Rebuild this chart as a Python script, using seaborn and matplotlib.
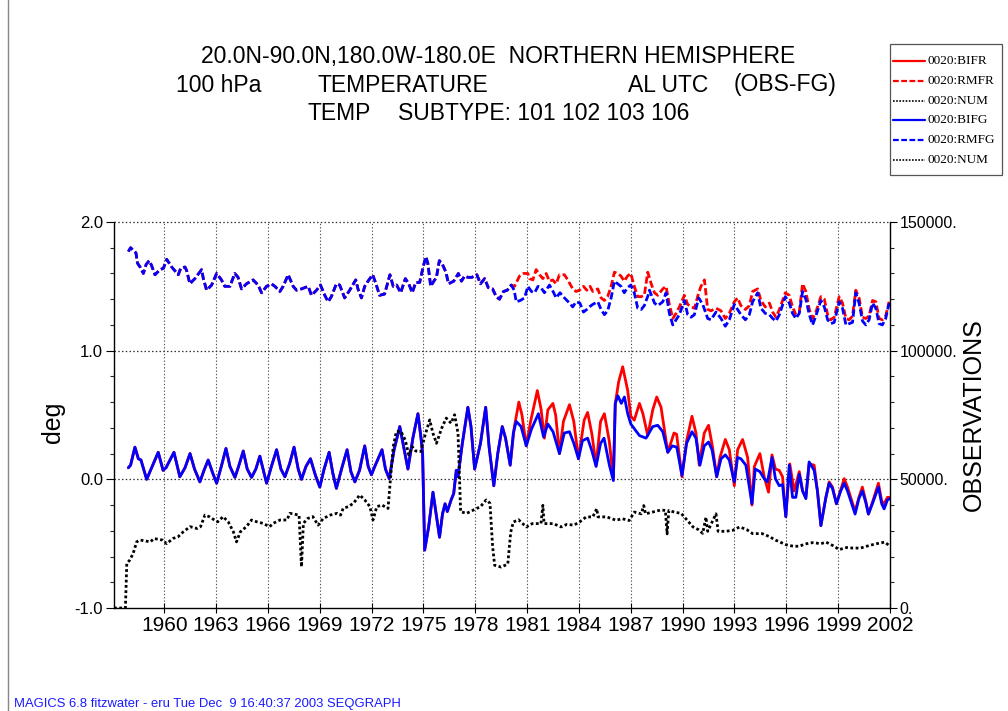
import numpy as np
import matplotlib
matplotlib.use("Agg")
import matplotlib.pyplot as plt
import seaborn as sns
from matplotlib.lines import Line2D
from matplotlib.patches import Rectangle
from matplotlib.ticker import FixedLocator, MultipleLocator, FixedFormatter

# ---------------- data ----------------
# BIFG : blue solid (deg)
BIFG_T = [1957.92, 1958.05, 1958.3, 1958.5, 1958.65, 1958.98, 1959.3, 1959.65, 1959.93, 1960.1,
          1960.56, 1960.9, 1961.2, 1961.49, 1961.75, 1962.06, 1962.3, 1962.54, 1962.8, 1963.03,
          1963.3, 1963.57, 1963.8, 1964.09, 1964.3, 1964.57, 1964.8, 1965.05, 1965.3, 1965.53,
          1965.75, 1965.92, 1966.2, 1966.5, 1966.75, 1966.98, 1967.25, 1967.51, 1967.75, 1967.94,
          1968.2, 1968.46, 1968.75, 1969.0, 1969.25, 1969.54, 1969.75, 1969.96, 1970.3, 1970.58,
          1970.8, 1971.03, 1971.3, 1971.6, 1971.8, 1971.99, 1972.15, 1972.6, 1972.8, 1973.02,
          1973.3, 1973.63, 1973.8, 1974.1, 1974.4, 1974.68, 1974.85, 1974.95, 1975.07, 1975.3,
          1975.55, 1975.7, 1975.93, 1976.1, 1976.25, 1976.38, 1976.6, 1976.75, 1976.9, 1977.0,
          1977.25, 1977.57, 1977.75, 1977.96, 1978.3, 1978.6, 1978.8, 1979.07, 1979.3, 1979.56,
          1979.75, 1980.02, 1980.2, 1980.37, 1980.65, 1980.95, 1981.25, 1981.65, 1981.95, 1982.2,
          1982.5, 1982.87, 1983.15, 1983.45, 1983.7, 1983.97, 1984.2, 1984.5, 1984.75, 1984.99,
          1985.25, 1985.45, 1985.76, 1985.99, 1986.1, 1986.25, 1986.45, 1986.63, 1986.82, 1987.0,
          1987.5, 1987.88, 1988.27, 1988.56, 1988.85, 1989.14, 1989.4, 1989.66, 1989.96, 1990.23,
          1990.54, 1990.77, 1991.0, 1991.25, 1991.5, 1991.7, 1991.97, 1992.22, 1992.47, 1992.7,
          1992.99, 1993.18, 1993.37, 1993.66, 1994.01, 1994.2, 1994.47, 1994.72, 1994.91, 1995.17,
          1995.37, 1995.59, 1995.78, 1995.97, 1996.17, 1996.36, 1996.55, 1996.75, 1996.94, 1997.13,
          1997.32, 1997.61, 1997.8, 1998.0, 1998.29, 1998.48, 1998.67, 1998.9, 1999.15, 1999.35,
          1999.54, 1999.98, 2000.2, 2000.4, 2000.6, 2000.75, 2000.98, 2001.33, 2001.52, 2001.66,
          2001.85, 2002.0]
BIFG_V = [0.09, 0.11, 0.25, 0.16, 0.15, 0.00, 0.10, 0.21, 0.07, 0.09,
          0.21, 0.02, 0.09, 0.20, 0.08, -0.02, 0.07, 0.15, 0.05, -0.03,
          0.10, 0.24, 0.10, 0.015, 0.10, 0.22, 0.08, 0.015, 0.08, 0.18,
          0.06, -0.03, 0.10, 0.23, 0.08, 0.02, 0.12, 0.25, 0.08, 0.00,
          0.10, 0.16, 0.03, -0.06, 0.08, 0.21, 0.05, -0.07, 0.10, 0.23,
          0.06, -0.02, 0.07, 0.26, 0.10, 0.035, 0.09, 0.23, 0.08, 0.005,
          0.23, 0.41, 0.29, 0.08, 0.33, 0.51, 0.33, 0.20, -0.55, -0.37,
          -0.10, -0.24, -0.45, -0.27, -0.19, -0.25, -0.16, -0.11, 0.07, 0.02,
          0.28, 0.56, 0.41, 0.08, 0.28, 0.56, 0.25, -0.05, 0.20, 0.41,
          0.32, 0.11, 0.36, 0.45, 0.41, 0.26, 0.39, 0.51, 0.33, 0.43,
          0.37, 0.20, 0.36, 0.37, 0.28, 0.16, 0.30, 0.32, 0.22, 0.10,
          0.28, 0.32, 0.11, -0.01, 0.59, 0.65, 0.59, 0.64, 0.51, 0.43,
          0.34, 0.32, 0.41, 0.42, 0.37, 0.21, 0.26, 0.25, 0.03, 0.28,
          0.37, 0.32, 0.11, 0.26, 0.29, 0.23, 0.02, 0.16, 0.19, 0.15,
          -0.02, 0.17, 0.16, 0.11, -0.19, 0.08, 0.06, 0.005, -0.02, 0.17,
          0.005, -0.05, -0.04, -0.29, 0.11, -0.14, -0.14, 0.04, -0.09, -0.15,
          0.135, 0.07, -0.09, -0.36, -0.14, -0.03, -0.07, -0.19, -0.09, -0.03,
          -0.09, -0.27, -0.15, -0.09, -0.18, -0.27, -0.19, -0.06, -0.19, -0.23,
          -0.16, -0.15]

# BIFR : red solid (deg), where it departs from BIFG (identical before 1980)
BIFR_T = [1980.02, 1980.25, 1980.52, 1980.7, 1980.95, 1981.2, 1981.59, 1981.8, 1982.0, 1982.2,
          1982.49, 1982.65, 1982.87, 1983.1, 1983.45, 1983.7, 1983.97, 1984.3, 1984.5, 1984.75,
          1984.99, 1985.25, 1985.47, 1985.75, 1985.99, 1986.1, 1986.3, 1986.53, 1986.82, 1987.0,
          1987.2, 1987.5, 1987.7, 1987.98, 1988.27, 1988.5, 1988.75, 1989.14, 1989.5, 1989.65,
          1989.96, 1990.23, 1990.54, 1990.77, 1990.96, 1991.25, 1991.5, 1991.73, 1991.97, 1992.16,
          1992.47, 1992.7, 1992.99, 1993.18, 1993.47, 1993.76, 1994.01, 1994.15, 1994.47, 1994.72,
          1994.97, 1995.17, 1995.37, 1995.59, 1995.78, 1995.97, 1996.2, 1996.45, 1996.75, 1996.94,
          1997.13, 1997.32, 1997.61, 1997.8, 1998.0, 1998.29, 1998.48, 1998.67, 1998.9, 1999.15,
          1999.35, 1999.54, 1999.98, 2000.2, 2000.4, 2000.6, 2000.75, 2000.98, 2001.33, 2001.52,
          2001.66, 2001.85, 2002.0]
BIFR_V = [0.11, 0.40, 0.60, 0.50, 0.26, 0.45, 0.69, 0.55, 0.32, 0.54,
          0.59, 0.50, 0.20, 0.45, 0.58, 0.45, 0.16, 0.46, 0.52, 0.35,
          0.11, 0.45, 0.51, 0.30, 0.00, 0.59, 0.76, 0.875, 0.69, 0.49,
          0.46, 0.59, 0.51, 0.34, 0.54, 0.64, 0.56, 0.21, 0.36, 0.35,
          0.02, 0.30, 0.49, 0.36, 0.11, 0.36, 0.42, 0.25, 0.02, 0.17,
          0.31, 0.23, -0.05, 0.23, 0.31, 0.17, -0.20, 0.10, 0.20, 0.02,
          -0.10, 0.19, 0.08, 0.07, 0.02, -0.29, 0.12, -0.09, 0.06, -0.09,
          -0.14, 0.12, 0.11, -0.09, -0.36, -0.14, -0.02, -0.06, -0.19, -0.08,
          0.005, -0.06, -0.25, -0.14, -0.06, -0.17, -0.27, -0.18, -0.03, -0.17,
          -0.19, -0.14, -0.14]

# RMFG : blue dashed (deg)
RMFG_T = [1957.92, 1958.05, 1958.2, 1958.36, 1958.45, 1958.6, 1958.79, 1958.95, 1959.13, 1959.27,
          1959.46, 1959.75, 1959.95, 1960.14, 1960.43, 1960.62, 1960.81, 1960.95, 1961.2, 1961.3,
          1961.48, 1961.77, 1962.16, 1962.26, 1962.45, 1962.74, 1963.03, 1963.31, 1963.5, 1963.8,
          1964.08, 1964.27, 1964.47, 1964.76, 1965.14, 1965.43, 1965.63, 1965.92, 1966.2, 1966.4,
          1966.69, 1966.88, 1967.17, 1967.46, 1967.65, 1967.94, 1968.33, 1968.52, 1968.81, 1969.04,
          1969.29, 1969.48, 1969.67, 1969.96, 1970.15, 1970.44, 1970.73, 1971.08, 1971.21, 1971.41,
          1971.6, 1971.79, 1972.06, 1972.25, 1972.46, 1972.75, 1973.06, 1973.25, 1973.45, 1973.68,
          1973.95, 1974.15, 1974.35, 1974.55, 1974.78, 1974.98, 1975.14, 1975.25, 1975.42, 1975.6,
          1975.75, 1975.92, 1976.1, 1976.3, 1976.45, 1976.75, 1977.02, 1977.2, 1977.38, 1977.57,
          1977.8, 1978.09, 1978.3, 1978.54, 1978.75, 1979.0, 1979.21, 1979.4, 1979.63, 1979.85,
          1980.08, 1980.25, 1980.37, 1980.6, 1980.85, 1981.04, 1981.25, 1981.43, 1981.63, 1981.8,
          1982.0, 1982.29, 1982.5, 1982.68, 1982.9, 1983.16, 1983.45, 1983.64, 1983.83, 1984.05,
          1984.26, 1984.45, 1984.6, 1984.8, 1985.09, 1985.28, 1985.47, 1985.66, 1985.86, 1986.05,
          1986.24, 1986.43, 1986.62, 1986.81, 1987.0, 1987.2, 1987.4, 1987.6, 1987.78, 1988.0,
          1988.08, 1988.37, 1988.56, 1988.85, 1989.04, 1989.23, 1989.43, 1989.62, 1989.81, 1990.1,
          1990.29, 1990.49, 1990.68, 1990.93, 1991.16, 1991.45, 1991.64, 1991.93, 1992.22, 1992.47,
          1992.7, 1992.99, 1993.18, 1993.37, 1993.63, 1993.86, 1994.05, 1994.34, 1994.53, 1994.78,
          1995.02, 1995.21, 1995.4, 1995.6, 1995.94, 1996.17, 1996.36, 1996.55, 1996.75, 1996.94,
          1997.13, 1997.33, 1997.52, 1997.71, 1998.0, 1998.2, 1998.39, 1998.58, 1998.77, 1999.06,
          1999.25, 1999.45, 1999.64, 1999.83, 2000.02, 2000.21, 2000.41, 2000.6, 2000.79, 2000.99,
          2001.18, 2001.37, 2001.56, 2001.75, 2001.95]
RMFG_V = [1.77, 1.80, 1.78, 1.76, 1.68, 1.65, 1.60, 1.67, 1.70, 1.66,
          1.59, 1.63, 1.64, 1.71, 1.65, 1.62, 1.59, 1.64, 1.65, 1.62,
          1.52, 1.56, 1.63, 1.56, 1.47, 1.51, 1.60, 1.55, 1.50, 1.50,
          1.60, 1.57, 1.48, 1.52, 1.55, 1.51, 1.45, 1.50, 1.52, 1.50,
          1.46, 1.50, 1.59, 1.50, 1.47, 1.48, 1.50, 1.43, 1.47, 1.51,
          1.43, 1.38, 1.42, 1.52, 1.51, 1.41, 1.47, 1.55, 1.48, 1.41,
          1.50, 1.54, 1.59, 1.52, 1.43, 1.44, 1.59, 1.50, 1.51, 1.45,
          1.56, 1.52, 1.45, 1.53, 1.53, 1.65, 1.73, 1.68, 1.50, 1.54,
          1.57, 1.70, 1.67, 1.61, 1.52, 1.54, 1.60, 1.54, 1.58, 1.57,
          1.57, 1.59, 1.52, 1.56, 1.49, 1.48, 1.42, 1.40, 1.46, 1.47,
          1.51, 1.47, 1.38, 1.39, 1.41, 1.50, 1.46, 1.45, 1.50, 1.49,
          1.45, 1.51, 1.46, 1.41, 1.45, 1.41, 1.37, 1.34, 1.38, 1.37,
          1.30, 1.32, 1.34, 1.36, 1.38, 1.32, 1.28, 1.31, 1.41, 1.54,
          1.52, 1.50, 1.45, 1.49, 1.51, 1.45, 1.33, 1.32, 1.35, 1.43,
          1.47, 1.37, 1.35, 1.38, 1.45, 1.29, 1.20, 1.24, 1.28, 1.39,
          1.28, 1.26, 1.28, 1.41, 1.36, 1.25, 1.24, 1.30, 1.25, 1.19,
          1.24, 1.36, 1.32, 1.28, 1.24, 1.28, 1.38, 1.45, 1.33, 1.29,
          1.28, 1.25, 1.23, 1.28, 1.42, 1.37, 1.29, 1.25, 1.29, 1.46,
          1.40, 1.28, 1.20, 1.27, 1.39, 1.34, 1.24, 1.21, 1.22, 1.38,
          1.33, 1.20, 1.21, 1.22, 1.45, 1.37, 1.23, 1.20, 1.24, 1.37,
          1.33, 1.21, 1.20, 1.25, 1.37]

# RMFR : red dashed (deg), where it departs from RMFG
RMFR_T = [1979.85, 1980.08, 1980.27, 1980.56, 1980.79, 1981.04, 1981.14, 1981.33, 1981.52, 1981.72,
          1981.91, 1982.1, 1982.29, 1982.48, 1982.68, 1982.87, 1983.16, 1983.35, 1983.64, 1983.83,
          1984.03, 1984.26, 1984.45, 1984.64, 1984.8, 1985.09, 1985.28, 1985.47, 1985.66, 1985.86,
          1986.05, 1986.24, 1986.43, 1986.62, 1986.81, 1987.0, 1987.2, 1987.4, 1987.6, 1987.78,
          1987.98, 1988.18, 1988.37, 1988.56, 1988.85, 1989.04, 1989.23, 1989.43, 1989.62, 1989.81,
          1990.1, 1990.29, 1990.49, 1990.68, 1990.93, 1991.06, 1991.26, 1991.45, 1991.64, 1991.93,
          1992.22, 1992.47, 1992.7, 1992.99, 1993.18, 1993.37, 1993.63, 1993.86, 1994.05, 1994.34,
          1994.53, 1994.78, 1995.02, 1995.21, 1995.4, 1995.6, 1995.94, 1996.17, 1996.36, 1996.55,
          1996.75, 1996.94, 1997.13, 1997.33, 1997.52, 1997.71, 1998.0, 1998.2, 1998.39, 1998.58,
          1998.77, 1999.06, 1999.25, 1999.45, 1999.64, 1999.83, 2000.02, 2000.21, 2000.41, 2000.6,
          2000.79, 2000.99, 2001.18, 2001.37, 2001.56, 2001.75, 2001.95]
RMFR_V = [1.47, 1.51, 1.50, 1.58, 1.60, 1.60, 1.56, 1.55, 1.63, 1.59,
          1.56, 1.60, 1.54, 1.55, 1.52, 1.59, 1.59, 1.55, 1.48, 1.46,
          1.47, 1.50, 1.47, 1.50, 1.46, 1.48, 1.41, 1.39, 1.42, 1.50,
          1.61, 1.60, 1.58, 1.54, 1.58, 1.60, 1.50, 1.42, 1.42, 1.43,
          1.61, 1.52, 1.45, 1.43, 1.48, 1.50, 1.36, 1.25, 1.29, 1.34,
          1.43, 1.36, 1.34, 1.33, 1.45, 1.50, 1.55, 1.32, 1.31, 1.33,
          1.31, 1.25, 1.29, 1.38, 1.41, 1.35, 1.32, 1.35, 1.46, 1.48,
          1.39, 1.34, 1.37, 1.30, 1.26, 1.32, 1.45, 1.43, 1.34, 1.28,
          1.30, 1.52, 1.46, 1.32, 1.25, 1.30, 1.42, 1.40, 1.28, 1.24,
          1.26, 1.42, 1.37, 1.25, 1.24, 1.27, 1.47, 1.41, 1.26, 1.25,
          1.27, 1.39, 1.38, 1.25, 1.24, 1.27, 1.38]

# NUM : number of observations (right axis)
NUM_T = [1957.09, 1957.75, 1957.83, 1958.0, 1958.2, 1958.4, 1958.6, 1959.2, 1959.4, 1959.9,
         1960.14, 1960.5, 1960.8, 1961.1, 1961.49, 1961.9, 1962.1, 1962.35, 1962.6, 1962.9,
         1963.1, 1963.4, 1963.7, 1964.0, 1964.18, 1964.4, 1964.75, 1965.05, 1965.35, 1965.7,
         1966.1, 1966.3, 1966.7, 1967.1, 1967.27, 1967.8, 1967.94, 1968.05, 1968.3, 1968.6,
         1968.9, 1969.2, 1969.6, 1970.0, 1970.2, 1970.35, 1970.65, 1970.95, 1971.31, 1971.6,
         1971.9, 1972.08, 1972.3, 1972.6, 1972.95, 1973.1, 1973.25, 1973.43, 1973.7, 1973.95,
         1974.15, 1974.35, 1974.55, 1974.85, 1975.07, 1975.36, 1975.55, 1975.75, 1976.05, 1976.32,
         1976.6, 1976.8, 1977.0, 1977.15, 1977.5, 1977.9, 1978.3, 1978.63, 1978.85, 1979.0,
         1979.12, 1979.5, 1979.88, 1980.05, 1980.2, 1980.5, 1980.95, 1981.3, 1981.8, 1981.91,
         1981.98, 1982.5, 1982.97, 1983.3, 1983.7, 1984.03, 1984.42, 1984.8, 1985.03, 1985.1,
         1985.6, 1986.15, 1986.5, 1986.9, 1987.21, 1987.6, 1987.75, 1987.85, 1988.27, 1988.75,
         1989.0, 1989.1, 1989.2, 1989.55, 1989.91, 1990.3, 1990.6, 1990.9, 1991.16, 1991.35,
         1991.45, 1991.93, 1992.05, 1992.5, 1992.9, 1993.3, 1993.7, 1994.05, 1994.6, 1995.0,
         1995.4, 1995.98, 1996.4, 1996.75, 1997.1, 1997.52, 1998.0, 1998.3, 1998.68, 1999.06,
         1999.5, 1999.83, 2000.3, 2000.8, 2001.37, 2001.7, 2002.0]
NUM_V = [0, 0, 17300, 18600, 21200, 25700, 26400, 25700, 27000, 26400,
         25000, 27000, 27700, 29600, 31600, 30900, 31600, 36100, 35500, 34200,
         33500, 35500, 33500, 29600, 25700, 29600, 31600, 34200, 33500, 32900,
         31600, 32900, 34200, 34200, 36800, 36100, 16000, 32900, 34800, 35500,
         32200, 34800, 36100, 36800, 36100, 38700, 39400, 40700, 43900, 42000,
         39400, 34200, 39400, 40000, 38700, 51000, 62700, 68600, 68600, 65200,
         59500, 62700, 61000, 60800, 66600, 73100, 67900, 64000, 69800, 73800,
         71800, 75100, 67900, 37400, 36800, 38100, 39400, 42000, 40700, 24000,
         16600, 15900, 17100, 29500, 33400, 34300, 31500, 32800, 32800, 39900,
         32800, 32800, 31500, 32500, 32200, 33400, 35400, 35400, 38600, 35400,
         35400, 34100, 34700, 34000, 37300, 36600, 39800, 36600, 37300, 38100,
         37900, 28800, 37900, 37200, 36800, 33800, 31500, 30500, 29000, 35300,
         29800, 36600, 29800, 29800, 30200, 31500, 30500, 28900, 28900, 27800,
         26300, 24600, 24000, 24000, 24900, 25400, 25000, 25600, 24300, 22700,
         23500, 23300, 23300, 24300, 25200, 25600, 24000]

YEAR_TICKS = list(range(1960, 2003, 3))
DEG_TICKS = [-1.0, 0.0, 1.0, 2.0]
DEG_LABELS = ["-1.0", "0.0", "1.0", "2.0"]
OBS_TICKS = [0, 50000, 100000, 150000]
OBS_LABELS = ["0.", "50000.", "100000.", "150000."]
LEGEND_LABELS = ["0020:BIFR", "0020:RMFR", "0020:NUM", "0020:BIFG", "0020:RMFG", "0020:NUM"]

# ---------------- figure ----------------
sns.set_theme(style="white")
plt.rcParams['font.family'] = ['Liberation Sans', 'DejaVu Sans']
plt.rcParams['axes.unicode_minus'] = False

W, H = 1008, 711
fig = plt.figure(figsize=(W / 100, H / 100), dpi=100)
fig.patch.set_facecolor("white")

ax = fig.add_axes([114 / W, 1 - 608 / H, 776 / W, 386 / H])
ax.set_facecolor("none")
ax2 = ax.twinx()

RED, BLUE = "#ff0000", "#0000ff"
LW = 2.0
DASH = (0, (2.6, 1.1))
DOT = (0, (1.0, 0.9))

# red curves are identical to the blue ones before 1980
bt = np.array(BIFG_T); bv = np.array(BIFG_V)
bifr_t = np.concatenate([bt[bt < BIFR_T[0]], BIFR_T])
bifr_v = np.concatenate([bv[bt < BIFR_T[0]], BIFR_V])
mt = np.array(RMFG_T); mv = np.array(RMFG_V)
rmfr_t = np.concatenate([mt[mt < RMFR_T[0]], RMFR_T])
rmfr_v = np.concatenate([mv[mt < RMFR_T[0]], RMFR_V])

common = dict(estimator=None, sort=False, legend=False)
sns.lineplot(x=bifr_t, y=bifr_v, ax=ax, color=RED, linewidth=LW, **common)
sns.lineplot(x=rmfr_t, y=rmfr_v, ax=ax, color=RED, linewidth=LW, linestyle=DASH, **common)
sns.lineplot(x=bt, y=bv, ax=ax, color=BLUE, linewidth=LW, **common)
sns.lineplot(x=mt, y=mv, ax=ax, color=BLUE, linewidth=LW, linestyle=DASH, **common)
sns.lineplot(x=np.array(NUM_T), y=np.array(NUM_V), ax=ax2, color="black",
             linewidth=2.0, linestyle=DOT, **common)

ax.set_xlim(1957.09, 2002.0)
ax.set_ylim(-1.0, 2.0)
ax2.set_ylim(0, 150000)

# grid
for x in YEAR_TICKS:
    ax.axvline(x, color="#555555", lw=0.8, ls=(0, (1.2, 1.8)), zorder=0)
for y in [0.0, 1.0]:
    ax.axhline(y, color="#333333", lw=0.9, ls=(0, (1.2, 1.8)), zorder=0)
ax.axhline(2.0, color="#333333", lw=0.9, ls=(0, (1.2, 1.8)), zorder=0, clip_on=False)

# spines
for s in ["left", "bottom"]:
    ax.spines[s].set_color("black"); ax.spines[s].set_linewidth(1.0)
ax.spines["top"].set_visible(False)
ax.spines["right"].set_visible(False)
ax2.spines["top"].set_visible(False)
ax2.spines["left"].set_visible(False)
ax2.spines["bottom"].set_visible(False)
ax2.spines["right"].set_color("black"); ax2.spines["right"].set_linewidth(1.0)

# ticks
ax.xaxis.set_major_locator(FixedLocator(YEAR_TICKS))
ax.set_xticklabels([str(y) for y in YEAR_TICKS])
ax.yaxis.set_major_locator(FixedLocator(DEG_TICKS))
ax.yaxis.set_major_formatter(FixedFormatter(DEG_LABELS))
ax.yaxis.set_minor_locator(MultipleLocator(0.2))
ax.tick_params(axis="x", which="major", direction="inout", length=7, width=0.8,
               labelsize=15, pad=2, bottom=True, colors="black")
ax.tick_params(axis="y", which="major", direction="out", length=6, width=0.8,
               labelsize=12, pad=2, left=True, colors="black")
ax.tick_params(axis="y", which="minor", direction="out", length=3, width=0.8, left=True)

ax2.yaxis.set_major_locator(FixedLocator(OBS_TICKS))
ax2.yaxis.set_major_formatter(FixedFormatter(OBS_LABELS))
ax2.yaxis.set_minor_locator(MultipleLocator(10000))
ax2.tick_params(axis="y", which="major", direction="out", length=5, width=0.8,
                labelsize=11.5, pad=2, right=True, colors="black")
ax2.tick_params(axis="y", which="minor", direction="out", length=3, width=0.8, right=True)
ax2.grid(False)
ax.grid(False)

ax.set_xlabel("")
ax.set_ylabel("deg", fontsize=18, color="black")
ax.yaxis.set_label_coords(-0.063, 0.48)
ax2.set_ylabel("OBSERVATIONS", fontsize=18, color="black", rotation=90)
ax2.yaxis.set_label_coords(1.093, 0.50)

# titles
tkw = dict(fontsize=16.5, color="black", va="center")
fig.text(498 / W, 1 - 56 / H, "20.0N-90.0N,180.0W-180.0E  NORTHERN HEMISPHERE", ha="center", **tkw)
fig.text(176 / W, 1 - 85 / H, "100 hPa", ha="left", **tkw)
fig.text(318 / W, 1 - 85 / H, "TEMPERATURE", ha="left", **tkw)
fig.text(628 / W, 1 - 85 / H, "AL UTC", ha="left", **tkw)
fig.text(734 / W, 1 - 85 / H, "(OBS-FG)", ha="left", **tkw)
fig.text(308 / W, 1 - 113 / H, "TEMP", ha="left", **tkw)
fig.text(398 / W, 1 - 113 / H, "SUBTYPE: 101 102 103 106", ha="left", **tkw)

# legend box
fig.add_artist(Rectangle((890 / W, 1 - 175 / H), 112 / W, 131 / H, transform=fig.transFigure,
                         facecolor="white", edgecolor="#555555", lw=0.9))
leg_styles = [(RED, "-"), (RED, DASH), ("black", DOT), (BLUE, "-"), (BLUE, DASH), ("black", DOT)]
leg_y = [61, 81, 101, 120, 140, 160]
for (c, ls), lab, yy in zip(leg_styles, LEGEND_LABELS, leg_y):
    fig.add_artist(Line2D([893 / W, 925 / W], [1 - yy / H] * 2, transform=fig.transFigure,
                          color=c, lw=1.6 if c != "black" else 1.2, ls=ls))
    fig.text(928 / W, 1 - yy / H, lab, fontsize=9.5, family=["Liberation Serif"],
             va="center", ha="left", color="black")

# page border & footer
fig.add_artist(Line2D([8 / W, 8 / W], [0, 1], transform=fig.transFigure, color="#888888", lw=1.0))
fig.text(14 / W, 1 - 704 / H, "MAGICS 6.8 fitzwater - eru Tue Dec  9 16:40:37 2003 SEQGRAPH",
         fontsize=9.4, color="#1a1aff", va="center", ha="left")

fig.savefig("out.png", dpi=100, facecolor="white")
